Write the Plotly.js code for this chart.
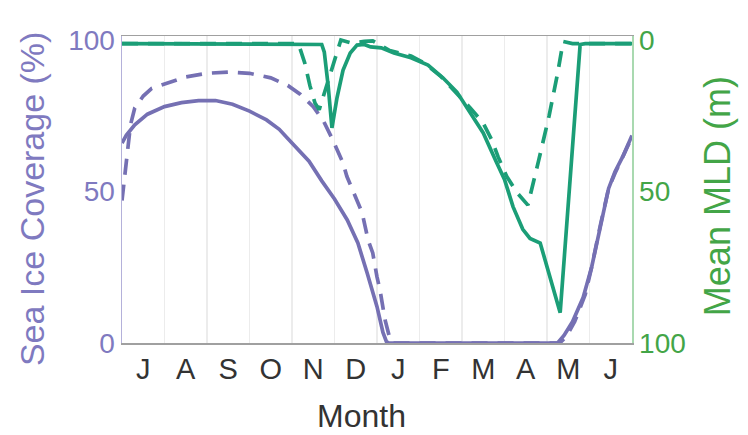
<!DOCTYPE html>
<html>
<head>
<meta charset="utf-8">
<script src="https://cdn.plot.ly/plotly-3.0.1.min.js"></script>
<style>
  html, body { margin: 0; padding: 0; background: #ffffff; }
  #chart { width: 748px; height: 435px; }
</style>
</head>
<body>
<div id="chart"></div>
<script>
// Months run from the start of July (0) to the end of June (12).
const monthLabels = ['J', 'A', 'S', 'O', 'N', 'D', 'J', 'F', 'M', 'A', 'M', 'J'];
const monthCentres = [0.5, 1.5, 2.5, 3.5, 4.5, 5.5, 6.5, 7.5, 8.5, 9.5, 10.5, 11.5];

// Sea ice coverage (%), solid line
const iceSolidMonth = [0, 0.1, 0.3, 0.6, 1.0, 1.4, 1.8, 2.2, 2.6, 3.0, 3.4, 3.7, 3.9, 4.1, 4.4, 4.7, 5.0, 5.3, 5.55, 5.77, 6.0, 6.14, 6.22, 6.28,
                       10.25, 10.4, 10.6, 10.85, 11.05, 11.25, 11.45, 11.6, 11.8, 12];
const iceSolid = [66, 68.5, 72, 75.5, 78, 79.3, 80, 80, 78.8, 76.5, 73.6, 70.5, 67.5, 64.5, 60, 53.5, 47.5, 40.6, 33, 23, 12, 3.5, 0.5, 0,
                  0, 2.5, 7, 15, 25, 38, 51, 56.5, 62, 68.5];

// Sea ice coverage (%), dashed line
const iceDashMonth = [0, 0.06, 0.12, 0.2, 0.3, 0.5, 0.7, 1.0, 1.5, 2.0, 2.5, 3.0, 3.5, 3.9, 4.2, 4.5, 4.75, 4.96, 5.2, 5.29, 5.53, 5.65, 5.79, 5.9, 6.0, 6.07, 6.19, 6.26, 6.31, 6.36,
                      10.3, 10.45, 10.65, 10.9, 11.05, 11.25, 11.45, 11.6, 11.8, 12];
const iceDash = [47, 55, 64, 72, 77.5, 81.5, 84, 85.5, 87.8, 89, 89.4, 89, 87.5, 85, 82, 78, 73, 67, 59.4, 55, 47.2, 43, 34, 29.7, 21.8, 17.5, 7.6, 3.3, 1, 0,
                 0, 2, 7, 16, 25, 38.5, 51, 56, 62, 68];

// Mean mixed layer depth (m), solid line
const mldSolidMonth = [0, 4.5, 4.7, 4.76, 4.85, 4.94, 5.06, 5.2, 5.37, 5.53, 5.7, 5.85, 6.1, 6.4, 6.8, 7.2, 7.55, 7.88, 8.2, 8.5, 8.8, 9.0, 9.2, 9.43, 9.6, 9.84, 10.31, 10.78, 10.9, 12];
const mldSolid = [1.2, 1.2, 1.5, 4, 15, 29, 19, 10, 4.3, 1.7, 1.5, 2.3, 2.6, 4.3, 5.9, 8.3, 12.5, 17.2, 24, 30.7, 40, 46, 55, 62.5, 65.5, 67, 90, 1.5, 1.2, 1.2];

// Mean mixed layer depth (m), dashed line
const mldDashMonth = [0, 4.15, 4.3, 4.42, 4.54, 4.64, 5.15, 5.4, 5.7, 5.9, 6.05, 6.3, 6.8, 7.1, 7.5, 7.9, 8.2, 8.5, 8.7, 8.85, 9.05, 9.3, 9.5, 9.55, 9.8, 10.05, 10.25, 10.38, 10.6, 12];
const mldDash = [1.2, 1.2, 7.6, 15, 20.8, 23, 0, 1, 0.5, 0.3, 1.5, 3.5, 5.3, 7.5, 12, 18, 22.5, 27.5, 33, 38.6, 45, 50.5, 54, 54.5, 40, 25, 11, 0.5, 1.2, 1.2];

const purple = '#7570b3';
const green = '#1b9e77';
const purpleText = '#7f7ac0';
const greenText = '#43a547';
const font = 'Liberation Sans, Arial, Helvetica, sans-serif';

const traces = [
  { x: iceSolidMonth, y: iceSolid, type: 'scatter', mode: 'lines', yaxis: 'y',
    line: { color: purple, width: 3.7 }, hoverinfo: 'skip' },
  { x: iceDashMonth, y: iceDash, type: 'scatter', mode: 'lines', yaxis: 'y',
    line: { color: purple, width: 3.7, dash: '16px,10px' }, hoverinfo: 'skip' },
  { x: mldDashMonth, y: mldDash, type: 'scatter', mode: 'lines', yaxis: 'y2',
    line: { color: green, width: 3.7, dash: '16px,10px' }, hoverinfo: 'skip' },
  { x: mldSolidMonth, y: mldSolid, type: 'scatter', mode: 'lines', yaxis: 'y2',
    line: { color: green, width: 3.7 }, hoverinfo: 'skip' }
];

const layout = {
  width: 748, height: 435,
  margin: { l: 122, r: 116, t: 36, b: 92 },
  paper_bgcolor: '#ffffff', plot_bgcolor: '#ffffff',
  showlegend: false,
  font: { family: font, size: 28, color: '#444' },
  xaxis: {
    range: [0, 12], fixedrange: true,
    tickmode: 'array', tickvals: monthCentres, ticktext: monthLabels,
    ticks: '', showgrid: false, zeroline: false,
    tickfont: { family: font, size: 29, color: '#333' },
    showline: true, linecolor: '#a0a0a0', linewidth: 1.5, mirror: true,
    minor: { tick0: 0, dtick: 1, showgrid: true, gridcolor: '#ececec', gridwidth: 1.5, ticks: '' }
  },
  yaxis: {
    range: [0, 101.3], fixedrange: true,
    tickmode: 'array', tickvals: [0, 50, 100], ticktext: ['0', '50', '100'],
    ticks: '', showgrid: false, zeroline: false,
    tickfont: { family: font, size: 28, color: purpleText },
    showline: true, linecolor: '#b4b1da', linewidth: 1.5
  },
  yaxis2: {
    overlaying: 'y', side: 'right',
    range: [100, -1.3], fixedrange: true,
    tickmode: 'array', tickvals: [0, 50, 100], ticktext: ['0', '50', '100'],
    ticks: '', showgrid: false, zeroline: false,
    tickfont: { family: font, size: 28, color: greenText },
    showline: true, linecolor: '#a9d9b0', linewidth: 1.5
  },
  annotations: [
    { text: 'Sea Ice Coverage (%)', xref: 'paper', yref: 'paper', x: -0.1765, y: 0.472,
      xanchor: 'center', yanchor: 'middle', textangle: -90, showarrow: false,
      font: { family: font, size: 34, color: purpleText } },
    { text: 'Mean MLD (m)', xref: 'paper', yref: 'paper', x: 1.169, y: 0.479,
      xanchor: 'center', yanchor: 'middle', textangle: -90, showarrow: false,
      font: { family: font, size: 36, color: greenText } },
    { text: 'Month', xref: 'paper', yref: 'paper', x: 0.47, y: -0.238,
      xanchor: 'center', yanchor: 'middle', showarrow: false,
      font: { family: font, size: 32, color: '#333' } }
  ]
};

Plotly.newPlot('chart', traces, layout, { staticPlot: true, displayModeBar: false });
</script>
</body>
</html>
